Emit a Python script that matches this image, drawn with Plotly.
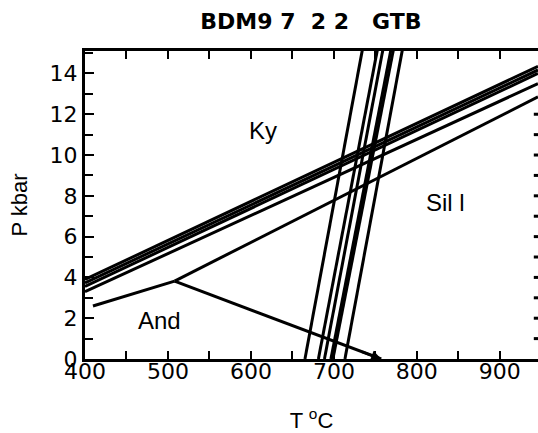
import plotly.graph_objects as go

# ---- data ----
# Ky-Sill reaction lines (T in degC, P in kbar), endpoints
kysill_T = [400, 946]
kysill_P1 = [3.90, 14.35]
kysill_P2 = [3.73, 14.17]
kysill_P3 = [3.56, 14.00]
kysill_P4 = [3.30, 13.50]

# Al2SiO5 triple-point lines
ky_sill_T = [508, 946]
ky_sill_P = [3.82, 12.85]
and_ky_T = [409.6, 508]
and_ky_P = [2.6, 3.82]
and_sill_T = [508, 757]
and_sill_P = [3.82, 0.0]

# steep thermometer lines: T at P=0 and at P=15.2
steep_P = [0.0, 15.2]
steep_T_bottom = [665.1, 681.3, 688.6, 696.4, 698.8, 713.3]
steep_T_top = [734.5, 752.6, 759.2, 768.9, 771.9, 782.7]

field_labels = ["Ky", "Sil l", "And"]
field_T = [614, 834, 490]
field_P = [11.2, 7.65, 1.9]

x_range = [400, 946]
y_range = [0, 15.1]
x_tick_vals = [400, 500, 600, 700, 800, 900]
x_minor_vals = [450, 550, 650, 750, 850]
y_tick_vals = [0, 2, 4, 6, 8, 10, 12, 14]
y_minor_vals = [1, 3, 5, 7, 9, 11, 13, 15]
y_right_ticks = [1, 2, 3, 4, 5, 6, 7, 8, 9, 10, 11, 12]

FONT = "Liberation Sans, Arial, Helvetica, sans-serif"
TICKFONT = "DejaVu Sans, sans-serif"

fig = go.Figure()
line_style = dict(color="black", width=3)

for P in [kysill_P1, kysill_P2, kysill_P3, kysill_P4]:
    fig.add_trace(go.Scatter(x=kysill_T, y=P, mode="lines", line=line_style,
                             showlegend=False, hoverinfo="skip"))
for T, P in [(ky_sill_T, ky_sill_P), (and_ky_T, and_ky_P), (and_sill_T, and_sill_P)]:
    fig.add_trace(go.Scatter(x=T, y=P, mode="lines", line=line_style,
                             showlegend=False, hoverinfo="skip"))
for tb, tt in zip(steep_T_bottom, steep_T_top):
    fig.add_trace(go.Scatter(x=[tb, tt], y=steep_P, mode="lines", line=line_style,
                             showlegend=False, hoverinfo="skip"))

# short tick marks along the (cropped) right border
fig.add_trace(go.Scatter(x=[x_range[1]] * len(y_right_ticks), y=y_right_ticks,
                         mode="markers", cliponaxis=False,
                         marker=dict(symbol="line-ew", size=6,
                                     line=dict(color="black", width=3)),
                         showlegend=False, hoverinfo="skip"))

# arrow head at end of And-Sill line
fig.add_annotation(x=and_sill_T[1], y=and_sill_P[1],
                   ax=and_sill_T[0] + 0.9 * (and_sill_T[1] - and_sill_T[0]),
                   ay=and_sill_P[0] + 0.9 * (and_sill_P[1] - and_sill_P[0]),
                   xref="x", yref="y", axref="x", ayref="y",
                   showarrow=True, arrowhead=2, arrowsize=0.8, arrowwidth=2.5,
                   arrowcolor="black", text="")

for lab, t, p in zip(field_labels, field_T, field_P):
    fig.add_annotation(x=t, y=p, text=lab, showarrow=False,
                       font=dict(family=FONT, size=24, color="black"))

fig.update_layout(
    width=538, height=433,
    margin=dict(l=85, r=0, t=51, b=74),
    paper_bgcolor="white", plot_bgcolor="white",
    title=dict(text="<b>BDM9 7  2 2   GTB</b>", x=0.578, xanchor="center",
               y=0.95, yanchor="middle",
               font=dict(family=TICKFONT, size=22, color="black")),
    xaxis=dict(range=x_range, tickvals=x_tick_vals,
               ticks="inside", ticklen=8, tickwidth=2, tickcolor="black",
               minor=dict(tickvals=x_minor_vals, ticks="inside",
                          ticklen=8, tickwidth=2, tickcolor="black"),
               showline=True, linewidth=3, linecolor="black", mirror="ticks",
               showgrid=False, zeroline=False, ticklabelstandoff=-9,
               automargin=False,
               tickfont=dict(family=TICKFONT, size=22, color="black"),
               title=dict(text="T <sup>o</sup>C", standoff=34,
                          font=dict(family=FONT, size=22, color="black"))),
    yaxis=dict(range=y_range, tickvals=y_tick_vals,
               ticks="inside", ticklen=9, tickwidth=2, tickcolor="black",
               minor=dict(tickvals=y_minor_vals, ticks="inside",
                          ticklen=8, tickwidth=2, tickcolor="black"),
               showline=True, linewidth=3, linecolor="black", mirror=False,
               showgrid=False, zeroline=False, automargin=False,
               tickfont=dict(family=TICKFONT, size=22, color="black"),
               title=dict(text="P kbar", standoff=16,
                          font=dict(family=FONT, size=22, color="black"))),
)

fig.write_html("out.html",
               config={"displayModeBar": False},
               post_script="document.body.style.margin='0';"
                           "document.body.style.overflow='hidden';")
